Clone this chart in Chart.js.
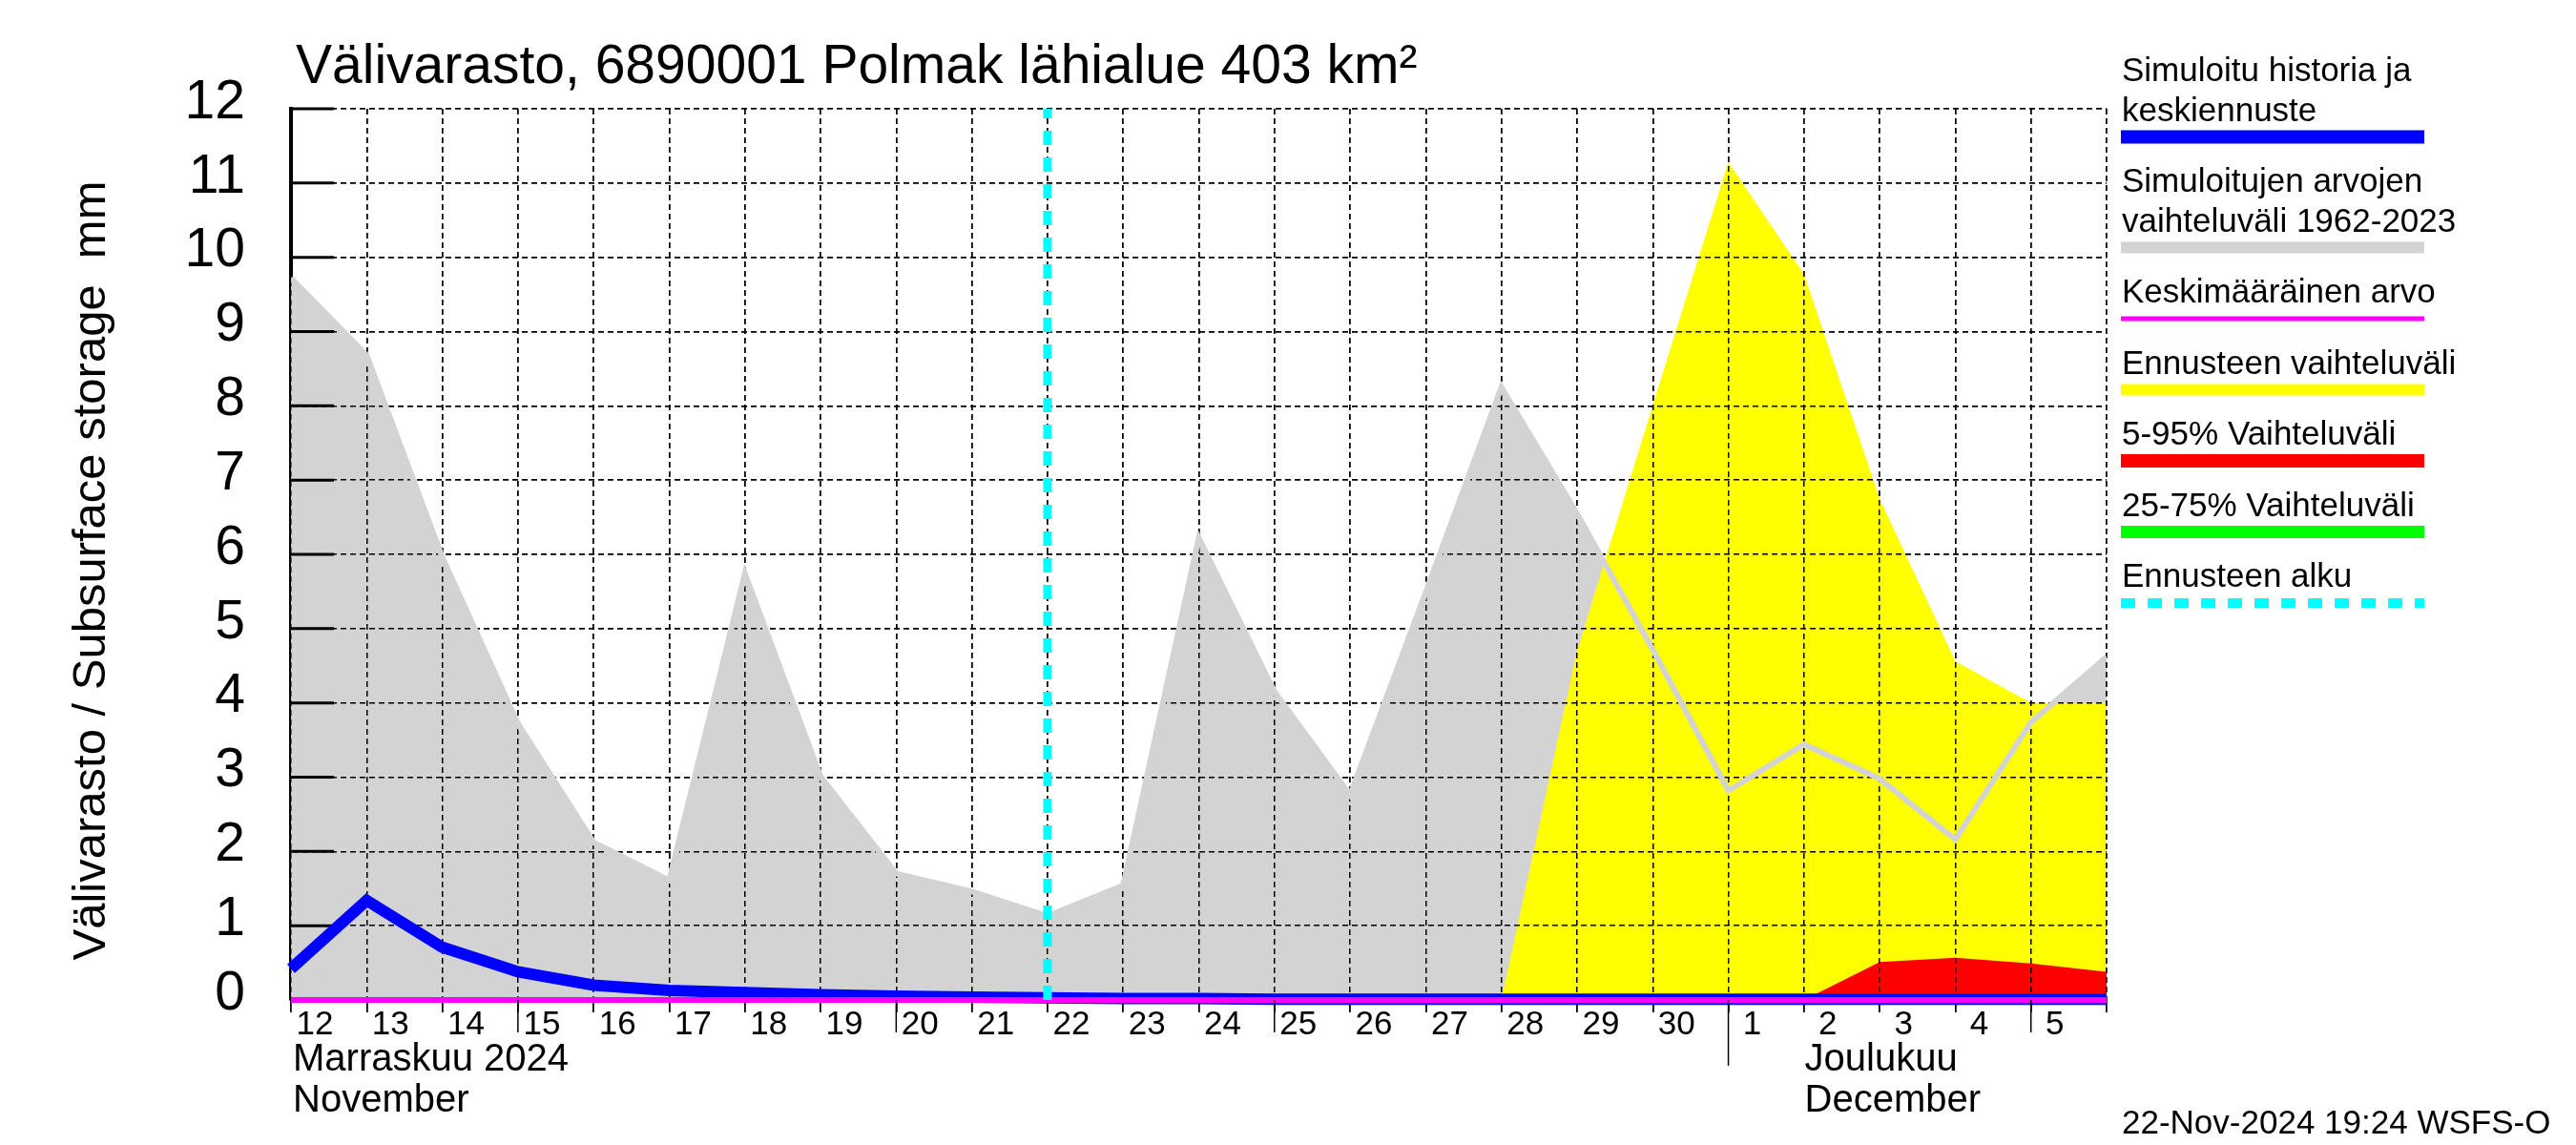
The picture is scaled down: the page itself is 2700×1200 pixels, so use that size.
<!DOCTYPE html>
<html>
<head>
<meta charset="utf-8">
<script src="https://cdn.jsdelivr.net/npm/chart.js@4.4.1/dist/chart.umd.min.js"></script>
<style>
  html, body { margin: 0; padding: 0; background: #fff; }
  #wrap { width: 2700px; height: 1200px; }
</style>
</head>
<body>
<div id="wrap"><canvas id="chart" width="2700" height="1200"></canvas></div>
<script>
// ========== DATA ========== //
// one point per day at 00:00, Nov 12 .. Dec 6 2024
const dayLabels = ["12", "13", "14", "15", "16", "17", "18", "19", "20", "21", "22", "23", "24", "25", "26", "27", "28", "29", "30", "1", "2", "3", "4", "5"];
const monthLabels = [["Marraskuu 2024", "November"], ["Joulukuu", "December"]];
const forecastStart = 10;   // Nov 22
const decemberStart = 19;   // Dec 1

// simulated range 1962-2023 (upper edge, lower edge is 0)
const historyRange = [9.72, 8.68, 5.96, 3.72, 2.12, 1.61, 5.74, 3.01, 1.70, 1.46, 1.13, 1.54, 6.22, 4.15, 2.76, 5.49, 8.25, 6.55, 4.72, 2.82, 3.44, 2.98, 2.16, 3.74, 4.62];
// simulated history + median forecast
const simulated = [0.42, 1.34, 0.71, 0.38, 0.20, 0.13, 0.10, 0.07, 0.05, 0.04, 0.03, 0.02, 0.02, 0.01, 0.01, 0.01, 0.01, 0.01, 0.01, 0.01, 0.01, 0.01, 0.01, 0.01, 0.01];
const meanValue = [0, 0, 0, 0, 0, 0, 0, 0, 0, 0, 0, 0, 0, 0, 0, 0, 0, 0, 0, 0, 0, 0, 0, 0, 0];
// forecast ranges, starting Nov 22
const forecastRange = [0, 0, 0, 0, 0, 0, 0, 4.7, 8.0, 11.28, 9.77, 6.75, 4.56, 4.0, 4.0];
const range5to95 = [0, 0, 0, 0, 0, 0, 0, 0, 0, 0, 0, 0.51, 0.57, 0.49, 0.38];
const range25to75 = [0, 0, 0, 0, 0, 0, 0, 0, 0, 0, 0, 0, 0, 0, 0];

const titleText = "Välivarasto, 6890001 Polmak lähialue 403 km²";
const yTitle = "Välivarasto / Subsurface storage  mm";
const stamp = "22-Nov-2024 19:24 WSFS-O";

const colors = {
  grey: "#d3d3d3", blue: "#0000ff", magenta: "#ff00ff", yellow: "#ffff00",
  red: "#ff0000", green: "#00ff00", cyan: "#00ffff"
};

const legendItems = [
  { lines: ["Simuloitu historia ja", "keskiennuste"], color: colors.blue, width: 14 },
  { lines: ["Simuloitujen arvojen", "vaihteluväli 1962-2023"], color: colors.grey, width: 12 },
  { lines: ["Keskimääräinen arvo"], color: colors.magenta, width: 5 },
  { lines: ["Ennusteen vaihteluväli"], color: colors.yellow, width: 12 },
  { lines: ["5-95% Vaihteluväli"], color: colors.red, width: 14 },
  { lines: ["25-75% Vaihteluväli"], color: colors.green, width: 13 },
  { lines: ["Ennusteen alku"], color: colors.cyan, width: 10, dash: [15, 13] }
];

const FONT = '"Liberation Sans", Arial, sans-serif';
Chart.defaults.font.family = FONT;
Chart.defaults.color = "#000";

// ========== HELPERS ========== //
const toPoints = (values, offset = 0) => values.map((v, i) => ({ x: i + offset, y: v }));

function hline(ctx, x1, y1, x2, y2) {
  ctx.beginPath();
  ctx.moveTo(x1, y1);
  ctx.lineTo(x2, y2);
  ctx.stroke();
}

// ========== PLUGINS ========== //
// grid is drawn over the filled areas but under the lines
const gridOnTop = {
  id: "gridOnTop",
  afterDatasetDraw(chart, args) {
    if (chart.data.datasets[args.index].key !== "q25") return;
    const { ctx, chartArea, scales: { x, y } } = chart;
    ctx.save();
    x.drawGrid(chartArea);
    y.drawGrid(chartArea);
    ctx.strokeStyle = "#000";
    ctx.lineWidth = 3;
    y.ticks.forEach(t => {
      const py = y.getPixelForValue(t.value);
      hline(ctx, chartArea.left, py, chartArea.left + 45, py);
    });
    ctx.restore();
  }
};

const decorations = {
  id: "decorations",
  afterDraw(chart) {
    const { ctx, chartArea: area, scales: { x } } = chart;
    ctx.save();
    ctx.fillStyle = "#000";
    ctx.textBaseline = "alphabetic";
    ctx.textAlign = "left";

    ctx.font = `57px ${FONT}`;
    ctx.fillText(titleText, 310, 87);

    // y axis title
    ctx.save();
    ctx.translate(96, 598);
    ctx.rotate(-Math.PI / 2);
    ctx.font = `49px ${FONT}`;
    ctx.textAlign = "center";
    ctx.textBaseline = "middle";
    ctx.fillText(yTitle, 0, 0);
    ctx.restore();

    // month names under the day labels
    ctx.font = `40px ${FONT}`;
    const novX = x.getPixelForValue(0);
    const decX = x.getPixelForValue(decemberStart);
    ctx.fillText(monthLabels[0][0], novX + 2, 1122);
    ctx.fillText(monthLabels[0][1], novX + 2, 1165);
    ctx.fillText(monthLabels[1][0], decX + 80, 1122);
    ctx.fillText(monthLabels[1][1], decX + 80, 1165);

    // month boundary and longer ticks on the 5th, 10th, ... 25th
    ctx.strokeStyle = "#000";
    ctx.lineWidth = 1.5;
    hline(ctx, decX, area.bottom, decX, 1117);
    dayLabels.forEach((d, i) => {
      const day = Number(d);
      if (day % 5 !== 0 || day > 25) return;
      const px = x.getPixelForValue(i);
      hline(ctx, px, area.bottom, px, 1082);
    });

    // legend
    ctx.font = `35px ${FONT}`;
    let base = 85;
    legendItems.forEach(item => {
      item.lines.forEach((line, j) => {
        if (j > 0) base += 41.5;
        ctx.fillText(line, 2224, base);
      });
      const ly = base + 17;
      ctx.save();
      ctx.strokeStyle = item.color;
      ctx.lineWidth = item.width;
      if (item.dash) ctx.setLineDash(item.dash);
      hline(ctx, 2223, ly, 2541, ly);
      ctx.restore();
      base = ly + 57.5;
    });

    ctx.font = `35px ${FONT}`;
    ctx.fillText(stamp, 2224, 1188);
    ctx.restore();
  }
};

// ========== CHART ========== //
const ctx = document.getElementById("chart").getContext("2d");
new Chart(ctx, {
  type: "line",
  data: {
    datasets: [
      { key: "hist", data: toPoints(historyRange), fill: "origin", backgroundColor: colors.grey, borderColor: "transparent", borderWidth: 0, order: 10 },
      { key: "fc", data: toPoints(forecastRange, forecastStart), fill: "origin", backgroundColor: colors.yellow, borderColor: "transparent", borderWidth: 0, order: 9 },
      { key: "q5", data: toPoints(range5to95, forecastStart), fill: "origin", backgroundColor: colors.red, borderColor: "transparent", borderWidth: 0, order: 8 },
      { key: "q25", data: toPoints(range25to75, forecastStart), fill: "origin", backgroundColor: colors.green, borderColor: "transparent", borderWidth: 0, order: 7 },
      { key: "histLine", data: toPoints(historyRange), fill: false, borderColor: colors.grey, borderWidth: 6, order: 6 },
      { key: "sim", data: toPoints(simulated), fill: false, borderColor: colors.blue, borderWidth: 12, order: 5, clip: 8 },
      { key: "mean", data: toPoints(meanValue), fill: false, borderColor: colors.magenta, borderWidth: 6, order: 4, clip: 8 },
      { key: "start", data: [{ x: forecastStart, y: 0 }, { x: forecastStart, y: 12 }], fill: false, borderColor: colors.cyan, borderWidth: 9, borderDash: [15, 13], order: 3 }
    ]
  },
  options: {
    responsive: false,
    devicePixelRatio: 1,
    animation: false,
    layout: { padding: { top: 114, right: 492, bottom: 0, left: 0 } },
    elements: { point: { radius: 0 }, line: { tension: 0 } },
    plugins: { legend: { display: false }, tooltip: { enabled: false } },
    scales: {
      x: {
        type: "linear",
        min: 0,
        max: dayLabels.length,
        afterBuildTicks: s => { s.ticks = historyRange.map((_, i) => ({ value: i })); },
        afterFit: s => { s.height = 152; },
        ticks: {
          font: { size: 35 },
          color: "#000",
          maxRotation: 0,
          autoSkip: false,
          labelOffset: 25,
          padding: -8,
          callback: (v, i) => dayLabels[i] ?? ""
        },
        grid: { color: "#000", lineWidth: 1.5, drawTicks: true, tickLength: 13, tickColor: "#000", tickWidth: 1.5, tickBorderDash: [] },
        border: { display: false, dash: [6, 4] }
      },
      y: {
        min: 0,
        max: 12,
        afterFit: s => { s.width = 305; },
        ticks: { stepSize: 1, font: { size: 57 }, color: "#000", padding: 48, labelOffset: -6 },
        grid: { color: "#000", lineWidth: 1.5, drawTicks: false },
        border: { display: true, color: "#000", width: 4, dash: [6, 4] },
        title: { display: false, text: yTitle }
      }
    }
  },
  plugins: [gridOnTop, decorations]
});
</script>
</body>
</html>
